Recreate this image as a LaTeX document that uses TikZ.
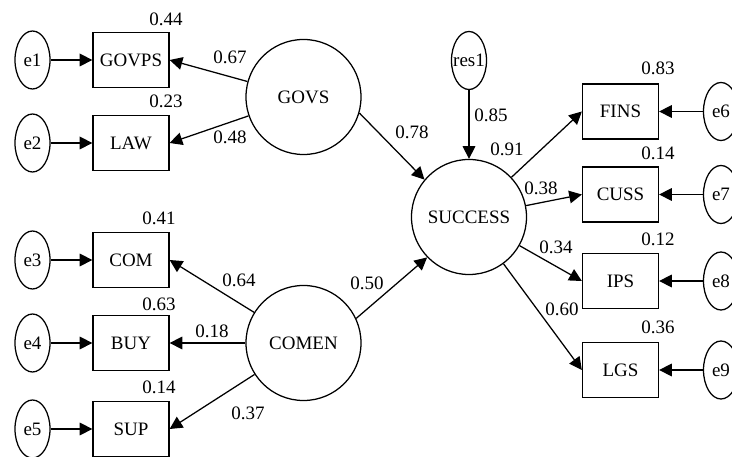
\documentclass[tikz,border=0pt]{standalone}
\usepackage{fontspec}
\setmainfont{Liberation Serif}
\usetikzlibrary{arrows.meta,shapes.geometric}
\tikzset{
	latent/.style={circle, draw, line width=0.9pt, minimum size=2.875cm, inner sep=0pt},
	observed/.style={rectangle, draw, line width=0.9pt, minimum width=1.9cm, minimum height=1.375cm, inner sep=0pt},
	errterm/.style={ellipse, draw, line width=0.9pt, minimum width=0.875cm, minimum height=1.45cm, inner sep=0pt},
	effect/.style={-{Triangle[length=9pt,width=9pt]}, line width=0.9pt},
	coef/.style={inner sep=1pt}
}

\begin{document}
\begin{tikzpicture}[x=0.025cm, y=-0.025cm, font=\fontsize{13.5}{16}\selectfont]
		%%%%% START %%%%%
		\useasboundingbox (0, 0) rectangle (732, 457);
		
		% latent variables
		\node[latent] (govs) at (303.5, 97) {GOVS};
		\node[latent] (comen) at (303.5, 343) {COMEN};
		\node[latent] (success) at (469, 217) {SUCCESS};
		\node[errterm] (res1) at (469, 60.5) {\makebox[0pt]{res1}};
		
		% left indicators
		\node[observed] (govps) at (131, 60) {GOVPS};
		\node[observed] (law) at (131, 143) {LAW};
		\node[observed] (com) at (131, 260) {COM};
		\node[observed] (buy) at (131, 343) {BUY};
		\node[observed] (sup) at (131, 429) {SUP};
		\node[errterm] (e1) at (32.5, 60) {e1};
		\node[errterm] (e2) at (32.5, 143) {e2};
		\node[errterm] (e3) at (32.5, 260) {e3};
		\node[errterm] (e4) at (32.5, 343) {e4};
		\node[errterm] (e5) at (32.5, 429) {e5};
		
		% right indicators
		\node[observed] (fins) at (620.5, 111.5) {FINS};
		\node[observed] (cuss) at (620.5, 194.5) {CUSS};
		\node[observed] (ips) at (620.5, 281) {IPS};
		\node[observed] (lgs) at (620.5, 370) {LGS};
		\node[errterm] (e6) at (721, 111.5) {e6};
		\node[errterm] (e7) at (721, 194.5) {e7};
		\node[errterm] (e8) at (721, 281) {e8};
		\node[errterm] (e9) at (721, 370) {e9};
		
		% paths
		\draw[effect] (e1) -- (govps);
		\draw[effect] (e2) -- (law);
		\draw[effect] (e3) -- (com);
		\draw[effect] (e4) -- (buy);
		\draw[effect] (e5) -- (sup);
		\draw[effect] (govs) -- (govps.east);
		\draw[effect] (govs) -- (law.east);
		\draw[effect] (comen) -- (com.east);
		\draw[effect] (comen) -- (buy.east);
		\draw[effect] (comen) -- (sup.east);
		\draw[effect] (govs.-16) -- (success.140);
		\draw[effect] (comen.25) -- (success.-136);
		\draw[effect] (res1) -- (success);
		\draw[effect] (success) -- (fins.west);
		\draw[effect] (success) -- (cuss.west);
		\draw[effect] (success) -- (ips.west);
		\draw[effect] (success) -- (lgs.west);
		\draw[effect] (e6) -- (fins);
		\draw[effect] (e7) -- (cuss);
		\draw[effect] (e8) -- (ips);
		\draw[effect] (e9) -- (lgs);
		
		% estimates
		\node[coef] (r-govps) at (166, 19) {0.44};
		\node[coef] (r-law) at (166, 101) {0.23};
		\node[coef] (r-com) at (159, 218) {0.41};
		\node[coef] (r-buy) at (159, 304) {0.63};
		\node[coef] (r-sup) at (159, 387) {0.14};
		\node[coef] (r-fins) at (658, 68) {0.83};
		\node[coef] (r-cuss) at (658, 153) {0.14};
		\node[coef] (r-ips) at (658, 239) {0.12};
		\node[coef] (r-lgs) at (658, 327) {0.36};
		\node[coef] (w-govps) at (230, 57) {0.67};
		\node[coef] (w-law) at (230, 137) {0.48};
		\node[coef] (w-com) at (239, 280) {0.64};
		\node[coef] (w-buy) at (212, 331) {0.18};
		\node[coef] (w-sup) at (248, 413) {0.37};
		\node[coef] (w-govs) at (412, 132) {0.78};
		\node[coef] (w-comen) at (367, 283) {0.50};
		\node[coef] (w-res1) at (491, 115) {0.85};
		\node[coef] (w-fins) at (507, 149) {0.91};
		\node[coef] (w-cuss) at (541, 188) {0.38};
		\node[coef] (w-ips) at (556, 247) {0.34};
		\node[coef] (w-lgs) at (562, 309) {0.60};
		
		%%%%% END %%%%%
\end{tikzpicture}
\end{document}
